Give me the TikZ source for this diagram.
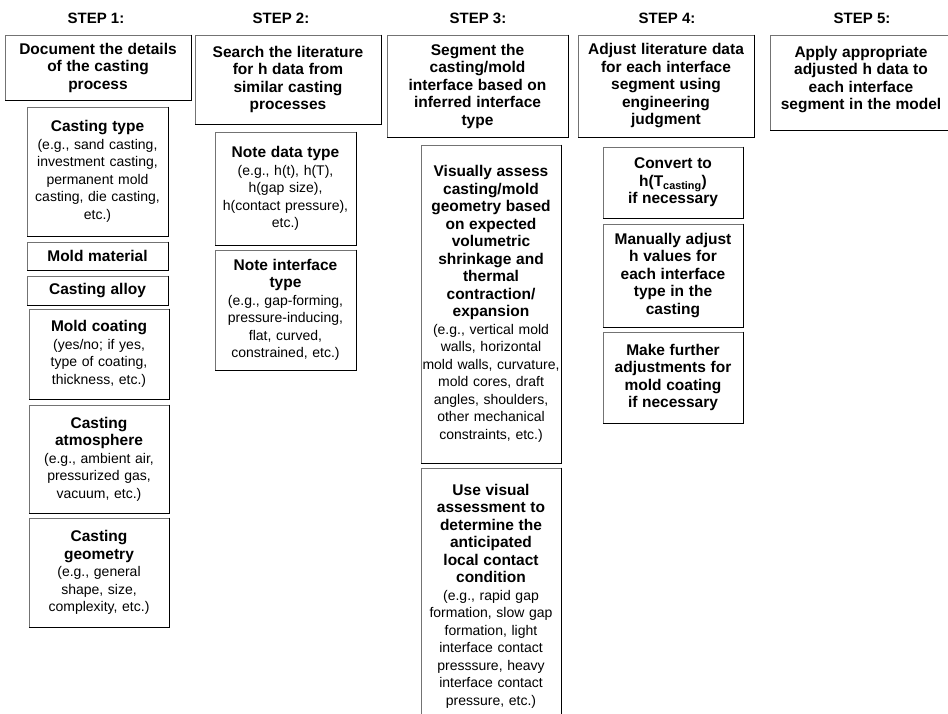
\documentclass[tikz,border=0pt]{standalone}
\usepackage{fontspec}
\setmainfont{Liberation Sans}

% bold heading inside a box
\newcommand{\hd}[1]{{\fontsize{15.5}{17.5}\selectfont\bfseries #1}}

\begin{document}
\begin{tikzpicture}[x=1pt,y=-1pt,
    box/.style={draw=black!55, line width=1pt, fill=white, align=center,
        inner xsep=0pt, inner ysep=2pt, font=\fontsize{14}{17.5}\selectfont},
    edge/.style={draw=black, line width=1.6pt},
    steplabel/.style={font=\fontsize{15}{17.5}\selectfont\bfseries}]

    \useasboundingbox (0,0) rectangle (948,713);

    % step headings
    \node[steplabel] (l1) at (96,18.5) {STEP 1:};
    \node[steplabel] (l2) at (281,18.5) {STEP 2:};
    \node[steplabel] (l3) at (478,18.5) {STEP 3:};
    \node[steplabel] (l4) at (667,18.5) {STEP 4:};
    \node[steplabel] (l5) at (862,18.5) {STEP 5:};

    % top row
    \node[box, text width=186, minimum height=65] (s1) at (98,67.5)
        {\hd{Document the details\\of the casting\\process}};
    \node[box, text width=186, minimum height=89] (s2) at (288,79.5)
        {\hd{Search the literature\\for h data from\\similar casting\\processes}};
    \node[box, text width=181, minimum height=102] (s3) at (477.5,86)
        {\hd{Segment the\\casting/mold\\interface based on\\inferred interface\\type}};
    \node[box, text width=176, minimum height=102] (s4) at (666,86)
        {\hd{Adjust literature data\\for each interface\\segment using\\engineering\\judgment}};
    \node[box, text width=182, minimum height=95] (s5) at (861,82.5)
        {\hd{Apply appropriate\\adjusted h data to\\each interface\\segment in the model}\\[-8pt]~};

    % step 1 details
    \node[box, text width=141, minimum height=129] (ctype) at (97.5,171.5)
        {\hd{Casting type}\\(e.g., sand casting,\\investment casting,\\permanent mold\\casting, die casting,\\etc.)};
    \node[box, text width=141, minimum height=28] (mmat) at (97.5,256)
        {\hd{Mold material}};
    \node[box, text width=141, minimum height=29] (calloy) at (97.5,290.5)
        {\hd{Casting alloy}};
    \node[box, text width=140, minimum height=90] (mcoat) at (99,354)
        {\hd{Mold coating}\\(yes/no; if yes,\\type of coating,\\thickness, etc.)};
    \node[box, text width=140, minimum height=108] (catm) at (99,459)
        {\hd{Casting\\atmosphere}\\(e.g., ambient air,\\pressurized gas,\\vacuum, etc.)};
    \node[box, text width=140, minimum height=109] (cgeo) at (99,572.5)
        {\hd{Casting\\geometry}\\(e.g., general\\shape, size,\\complexity, etc.)};

    % step 2 details
    \node[box, text width=141, minimum height=113] (dtype) at (285.5,188.5)
        {\hd{Note data type}\\(e.g., h(t), h(T),\\h(gap size),\\h(contact pressure),\\etc.)};
    \node[box, text width=141, minimum height=120] (itype) at (285.5,310)
        {\hd{Note interface\\type}\\(e.g., gap-forming,\\pressure-inducing,\\flat, curved,\\constrained, etc.)};

    % step 3 details
    \node[box, text width=140, minimum height=318] (vis) at (491,304)
        {\hd{Visually assess\\casting/mold\\geometry based\\on expected\\volumetric\\shrinkage and\\thermal\\contraction/\\expansion}\\(e.g., vertical mold\\walls, horizontal\\mold walls, curvature,\\mold cores, draft\\angles, shoulders,\\other mechanical\\constraints, etc.)};
    \node[box, text width=140, minimum height=256] (use) at (491,596)
        {\hd{Use visual\\assessment to\\determine the\\anticipated\\local contact\\condition}\\(e.g., rapid gap\\formation, slow gap\\formation, light\\interface contact\\presssure, heavy\\interface contact\\pressure, etc.)};

    % step 4 details
    \node[box, text width=140, minimum height=71] (conv) at (673,182.5)
        {\hd{Convert to\\h(T\textsubscript{casting})\\if necessary}};
    \node[box, text width=140, minimum height=103] (man) at (673,275.5)
        {\hd{Manually adjust\\h values for\\each interface\\type in the\\casting}};
    \node[box, text width=140, minimum height=91] (fur) at (673,377.5)
        {\hd{Make further\\adjustments for\\mold coating\\if necessary}};

    % darker right and bottom sides
    \foreach \n in {s1,s2,s3,s4,s5,ctype,mmat,calloy,mcoat,catm,cgeo,dtype,itype,vis,use,conv,man,fur}
        \draw[edge] (\n.north east) -- (\n.south east) -- (\n.south west);

\end{tikzpicture}
\end{document}
